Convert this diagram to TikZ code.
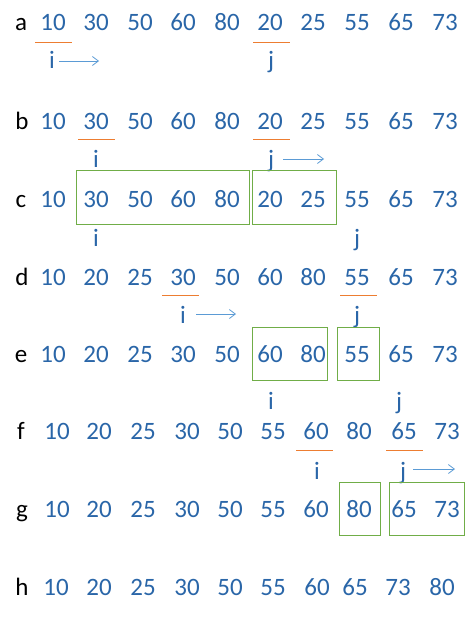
\documentclass[tikz,border=0pt]{standalone}
\usepackage{fontspec}
\setmainfont{Carlito}
\usetikzlibrary{arrows.meta}
\definecolor{numblue}{HTML}{2A66A8}
\definecolor{arrblue}{HTML}{5B9BD5}
\definecolor{boxgreen}{HTML}{70AD47}
\definecolor{ulorange}{HTML}{ED7D31}
\tikzset{
  num/.style={anchor=base,inner sep=1pt,text=numblue,font=\fontsize{25}{29}\selectfont},
  rowlab/.style={anchor=base,inner sep=1pt,text=black,font=\fontsize{25}{29}\selectfont},
  ptr/.style={anchor=base,inner sep=1pt,text=numblue,font=\fontsize{25}{29}\selectfont},
  arr/.style={draw=arrblue,line width=0.8pt,-{Straight Barb[length=6pt,width=9pt]}},
  grpbox/.style={draw=boxgreen,line width=1pt},
  uline/.style={draw=ulorange,line width=0.9pt}
}
\begin{document}
\begin{tikzpicture}[x=1pt,y=-1pt]
\useasboundingbox (0,0) rectangle (476,618);
% row labels
\node[rowlab] (la) at (21,31) {a};
\node[rowlab] (lb) at (22,129) {b};
\node[rowlab] (lc) at (21,207) {c};
\node[rowlab] (ld) at (22,285) {d};
\node[rowlab] (le) at (21,362) {e};
\node[rowlab] (lf) at (21,439) {f};
\node[rowlab] (lg) at (22,517) {g};
\node[rowlab] (lh) at (22,595) {h};
% rows a, b, c
\foreach \x/\v [count=\k] in {53/10,96/30,140/50,183/60,227/80,270/20,313/25,357/55,401/65,445/73}{
  \node[num] (a\k) at (\x,31) {\v};
  \node[num] (b\k) at (\x,129) {\v};
  \node[num] (c\k) at (\x,207) {\v};
}
% rows d, e
\foreach \x/\v [count=\k] in {53/10,96/20,140/25,183/30,227/50,270/60,313/80,357/55,401/65,445/73}{
  \node[num] (d\k) at (\x,285) {\v};
  \node[num] (e\k) at (\x,362) {\v};
}
% rows f, g
\foreach \x/\v [count=\k] in {57/10,99/20,143/25,187/30,230/50,273/55,316/60,359/80,404/65,447/73}{
  \node[num] (f\k) at (\x,439) {\v};
  \node[num] (g\k) at (\x,517) {\v};
}
% row h
\foreach \x/\v [count=\k] in {56/10,99/20,143/25,187/30,230/50,273/55,317/60,355/65,398/73,442/80}{
  \node[num] (h\k) at (\x,595) {\v};
}
% underlines
\draw[uline] (35,42) -- (72,42);
\draw[uline] (253,42) -- (290,42);
\draw[uline] (78,139) -- (115,139);
\draw[uline] (253,139) -- (290,139);
\draw[uline] (162,295) -- (199,295);
\draw[uline] (340,295) -- (377,295);
\draw[uline] (296,450) -- (333,450);
\draw[uline] (386,450) -- (423,450);
% pointers
\node[ptr] (ia) at (52,69) {i};
\node[ptr] (ja) at (271,69) {j};
\node[ptr] (ib) at (96,167) {i};
\node[ptr] (jb) at (271,167) {j};
\node[ptr] (ic) at (96,246) {i};
\node[ptr] (jc) at (357,246) {j};
\node[ptr] (id) at (183,323) {i};
\node[ptr] (jd) at (357,323) {j};
\node[ptr] (if) at (271,409) {i};
\node[ptr] (jf) at (399,409) {j};
\node[ptr] (ig) at (317,479) {i};
\node[ptr] (jg) at (403,479) {j};
% arrows
\coordinate (sa) at (59,61);  \coordinate (ea) at (99,61);
\coordinate (sb) at (283,159); \coordinate (eb) at (324,159);
\coordinate (sd) at (196,314); \coordinate (ed) at (236,314);
\coordinate (sg) at (413,469); \coordinate (eg) at (455,469);
\draw[arr] (sa) -- (ea);
\draw[arr] (sb) -- (eb);
\draw[arr] (sd) -- (ed);
\draw[arr] (sg) -- (eg);
% boxes
\draw[grpbox] (76,170) rectangle (249,224);
\draw[grpbox] (252,170) rectangle (336,224);
\draw[grpbox] (252,327) rectangle (327,380);
\draw[grpbox] (337,327) rectangle (379,380);
\draw[grpbox] (339,482) rectangle (380,535);
\draw[grpbox] (389,482) rectangle (464,535);
\end{tikzpicture}
\end{document}
